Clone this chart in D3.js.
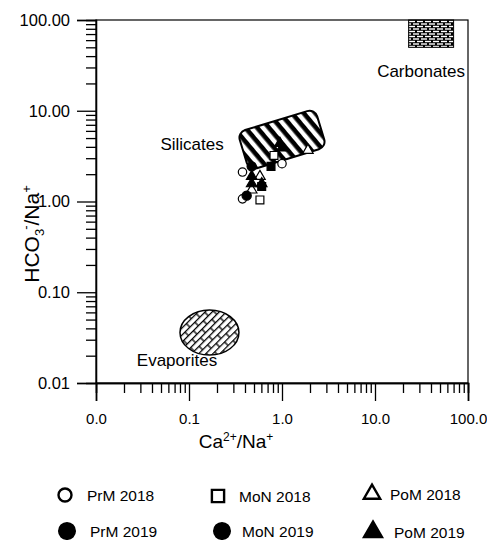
<!DOCTYPE html>
<html><head><meta charset="utf-8">
<script src="https://cdn.jsdelivr.net/npm/d3@7"></script>
<style>body{margin:0;background:#fff} text{font-family:"Liberation Sans",Arial,Helvetica,sans-serif;fill:#000}</style>
</head><body><svg id="c" width="487" height="540"></svg>
<script>
// ---- data ----
const xTicks=[0.01,0.1,1,10,100];
const xTickLabels=["0.0","0.1","1.0","10.0","100.0"];
const yTicks=[0.01,0.1,1,10,100];
const yTickLabels=["0.01","0.10","1.00","10.00","100.00"];
const seriesNames=["PrM 2018","MoN 2018","PoM 2018","PrM 2019","MoN 2019","PoM 2019"];
const prm2018=[[0.376,2.11],[1.0,2.61],[0.376,1.07]];
const mon2018=[[0.82,3.22],[0.579,1.04]];
const pom2018=[[1.9,3.66],[0.579,1.89],[0.472,1.34]];
const prm2019=[[0.417,1.16],[0.472,2.44]];
const mon2019=[[0.762,2.44],[0.605,1.46]];
const pom2019=[[0.95,4.37],[1.0,3.9],[0.472,1.89],[0.472,1.57],[0.605,1.57]];
const seriesValues=[prm2018,mon2018,pom2018,prm2019,mon2019,pom2019];
const plotSymbols=["circle","square","triangle","circle","square","triangle"];
const legendSymbols=["circle","square","triangle","circle","circle","triangle"];
const filled=[false,false,false,true,true,true];
// regions (data units)
const carbonatesX=[23,70], carbonatesY=[50,100];
const evaporitesCenter=[0.166,0.036], evaporitesRadiusDecades=[0.317,0.249];
const silicatesCenter=[1.0,4.8], silicatesSizeDecades=[0.87,0.44];

// ---- drawing ----
const svg=d3.select("#c");
const L=96,R=468,T=20,B=383;
const x=d3.scaleLog().domain([0.01,100]).range([L,R]);
const y=d3.scaleLog().domain([0.01,100]).range([B,T]);
const minor=[];
[0.01,0.1,1,10].forEach(d=>{for(let k=2;k<=9;k++)minor.push(k*d);});

const defs=svg.append("defs");
// silicates stripes
const ps=defs.append("pattern").attr("id","stripes").attr("patternUnits","userSpaceOnUse")
  .attr("width",9).attr("height",9).attr("patternTransform","rotate(67)");
ps.append("rect").attr("width",9).attr("height",9).attr("fill","#fff");
ps.append("rect").attr("width",9).attr("height",4.6).attr("fill","#000");
// carbonates bricks
const pc=defs.append("pattern").attr("id","bricks").attr("patternUnits","userSpaceOnUse")
  .attr("width",8).attr("height",5);
pc.append("rect").attr("width",8).attr("height",5).attr("fill","#000");
pc.append("rect").attr("x",1).attr("y",0.8).attr("width",6).attr("height",1.4).attr("fill","#fff");
pc.append("rect").attr("x",-3).attr("y",3.3).attr("width",6).attr("height",1.4).attr("fill","#fff");
pc.append("rect").attr("x",5).attr("y",3.3).attr("width",6).attr("height",1.4).attr("fill","#fff");
// evaporites bricks
const pe=defs.append("pattern").attr("id","ebricks").attr("patternUnits","userSpaceOnUse")
  .attr("width",14).attr("height",10).attr("patternTransform","rotate(-45)");
pe.append("rect").attr("width",14).attr("height",10).attr("fill","#fff");
pe.append("path").attr("d","M0,0.6H14M0,5.6H14M1,0.6V5.6M8,5.6V10.6")
  .attr("stroke","#000").attr("stroke-width",1.3).attr("fill","none");

// frame
svg.append("rect").attr("x",L).attr("y",T).attr("width",R-L).attr("height",B-T)
  .attr("fill","none").attr("stroke","#000").attr("stroke-width",1.2);

// regions
svg.append("rect").attr("x",x(carbonatesX[0])).attr("y",y(carbonatesY[1]))
  .attr("width",x(carbonatesX[1])-x(carbonatesX[0])).attr("height",y(carbonatesY[0])-y(carbonatesY[1]))
  .attr("fill","url(#bricks)").attr("stroke","#000").attr("stroke-width",1);
const ecx=x(evaporitesCenter[0]), ecy=y(evaporitesCenter[1]);
const erx=x(evaporitesCenter[0]*Math.pow(10,evaporitesRadiusDecades[0]))-ecx;
const ery=ecy-y(evaporitesCenter[1]*Math.pow(10,evaporitesRadiusDecades[1]));
svg.append("ellipse").attr("cx",ecx).attr("cy",ecy).attr("rx",erx).attr("ry",ery)
  .attr("fill","url(#ebricks)").attr("stroke","#000").attr("stroke-width",1.5);
const scx=x(silicatesCenter[0]), scy=y(silicatesCenter[1]);
const sw=x(Math.pow(10,silicatesSizeDecades[0]))-x(1), sh=y(1)-y(Math.pow(10,silicatesSizeDecades[1]));
svg.append("rect").attr("transform",`translate(${scx},${scy}) rotate(-17)`)
  .attr("x",-sw/2).attr("y",-sh/2).attr("width",sw).attr("height",sh).attr("rx",8).attr("ry",8)
  .attr("fill","url(#stripes)").attr("stroke","#000").attr("stroke-width",2);

// region labels
const lab=(t,xv,yv)=>svg.append("text").attr("x",x(xv)).attr("y",y(yv)).attr("text-anchor","middle")
  .attr("font-size",17).text(t);
lab("Carbonates",31.3,23.5);
lab("Silicates",0.108,3.69);
lab("Evaporites",0.0743,0.0154);

// axes
const gx=svg.append("g").attr("transform",`translate(0,${B})`);
gx.call(d3.axisBottom(x).tickValues(minor).tickSize(10).tickFormat(""));
gx.append("g").call(d3.axisBottom(x).tickValues(xTicks).tickSize(18).tickPadding(12)
  .tickFormat((d,i)=>xTickLabels[i]));
gx.selectAll(".domain").attr("stroke-width",1.6);
gx.selectAll("line").attr("stroke","#000").attr("stroke-width",1.3);
gx.selectAll("text").attr("font-size",15).attr("font-family",'"Liberation Sans",Arial,sans-serif').attr("fill","#000");

const gy=svg.append("g").attr("transform",`translate(${L},0)`);
gy.call(d3.axisLeft(y).tickValues(minor).tickSize(10).tickFormat(""));
gy.append("g").call(d3.axisLeft(y).tickValues(yTicks).tickSize(19).tickPadding(7)
  .tickFormat((d,i)=>yTickLabels[i]));
gy.selectAll(".domain").attr("stroke-width",1.3);
gy.selectAll("line").attr("stroke","#000").attr("stroke-width",1.3);
gy.selectAll("text").attr("font-size",16.5).attr("font-family",'"Liberation Sans",Arial,sans-serif').attr("fill","#000");

// axis titles
const xt=svg.append("text").attr("x",236).attr("y",448).attr("text-anchor","middle").attr("font-size",19);
xt.append("tspan").text("Ca");
xt.append("tspan").attr("font-size",12).attr("dy",-7).text("2+");
xt.append("tspan").attr("dy",7).text("/Na");
xt.append("tspan").attr("font-size",12).attr("dy",-7).text("+");
const yt=svg.append("text").attr("transform","translate(39,234) rotate(-90)").attr("text-anchor","middle").attr("font-size",21);
yt.append("tspan").text("HCO");
yt.append("tspan").attr("font-size",13).attr("dy",5).text("3");
yt.append("tspan").attr("font-size",13).attr("dx",-1).attr("dy",-14).text("-");
yt.append("tspan").attr("dy",9).text("/Na");
yt.append("tspan").attr("font-size",13).attr("dy",-8).text("+");

// markers
function marker(g,sym,cx,cy,fill,scale,sw){
  if(sym==="circle"){
    g.append("circle").attr("cx",cx).attr("cy",cy).attr("r",(fill?4.6:4.2)*scale)
      .attr("fill",fill?"#000":"#fff").attr("stroke","#000").attr("stroke-width",sw);
  } else {
    const type=sym==="square"?d3.symbolSquare:d3.symbolTriangle;
    const size=sym==="square"?62*scale*scale:48*scale*scale;
    g.append("path").attr("d",d3.symbol().type(type).size(size)()).attr("transform",`translate(${cx},${cy})`)
      .attr("fill",fill?"#000":"#fff").attr("stroke","#000").attr("stroke-width",sw);
  }
}
const gm=svg.append("g");
seriesValues.forEach((vals,i)=>{
  vals.forEach(v=>marker(gm,plotSymbols[i],x(v[0]),y(v[1]),filled[i],1,1.2));
});

// legend
const legX=[[65,87],[218,239],[372,390],[67,90],[222,242],[373,394]];
const legY=[495,496,494,531,531,532];
const gl=svg.append("g");
seriesNames.forEach((n,i)=>{
  const [sx,tx]=legX[i], cy=legY[i];
  marker(gl,legendSymbols[i],sx,cy,filled[i],filled[i]?1.7:1.55,2.4);
  gl.append("text").attr("x",tx).attr("y",cy+5.5).attr("font-size",15.5).text(n);
});
</script></body></html>
